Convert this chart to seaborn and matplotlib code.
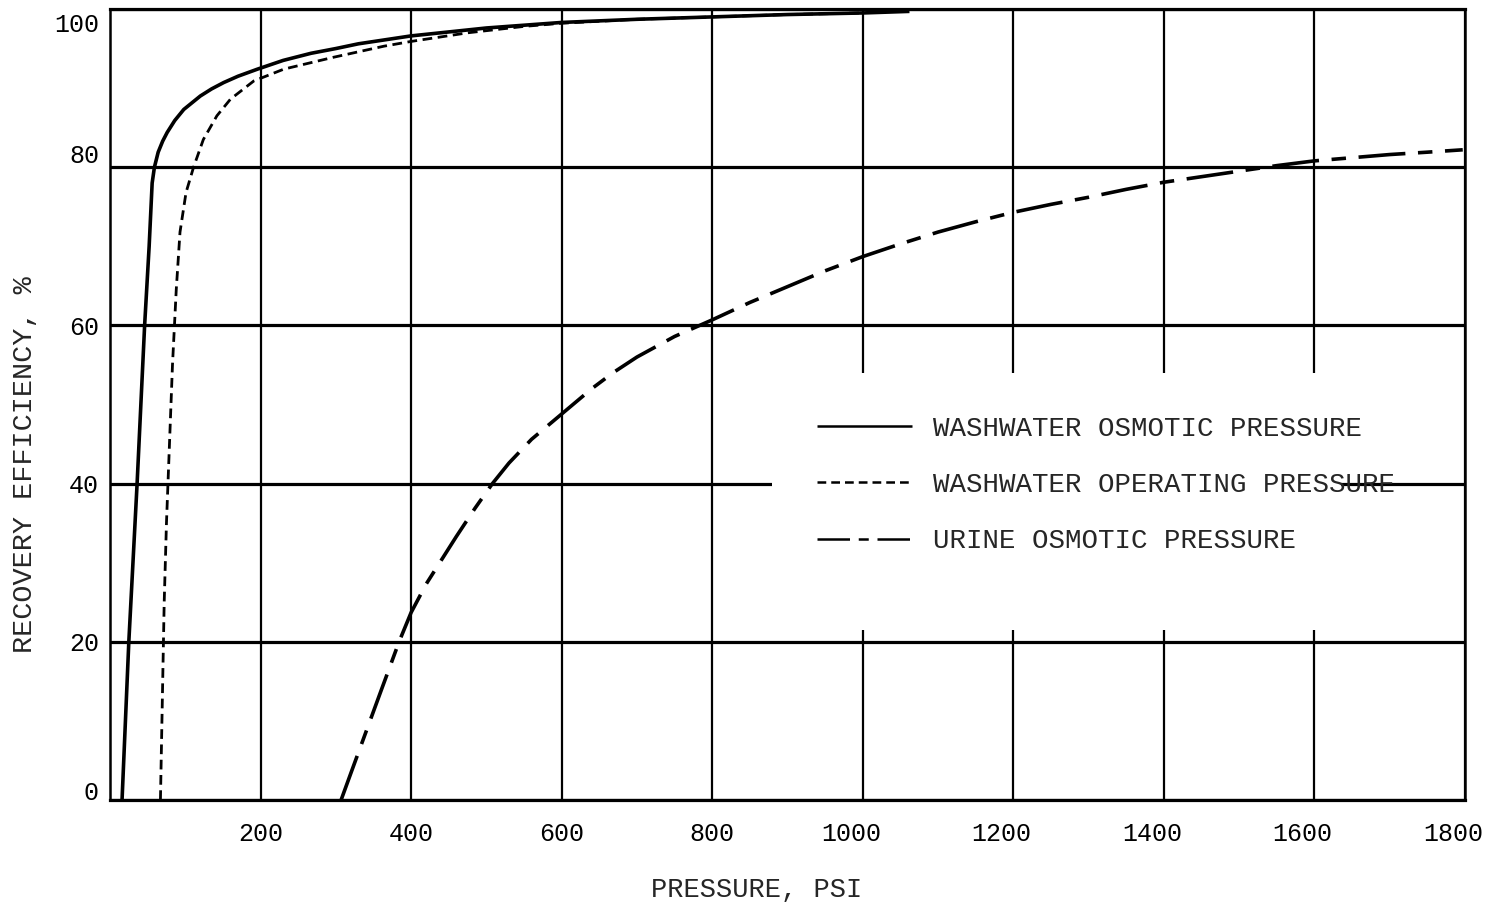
import matplotlib
matplotlib.use("Agg")
import matplotlib.pyplot as plt
import matplotlib.transforms as mtransforms
import seaborn as sns
import numpy as np
import pandas as pd
from matplotlib.patches import Rectangle

# ---- data ----
wash_osm_psi = [16, 25, 36, 46, 52, 56, 59, 64, 70, 76, 86, 98, 120, 135, 151, 170, 196, 230, 267,
                300, 330, 400, 500, 600, 700, 800, 900, 1000, 1062]
wash_osm_eff = [0, 20, 40, 60, 70, 78.0, 80.0, 81.9, 83.3, 84.4, 85.9, 87.3, 89.0, 89.9, 90.7, 91.5,
                92.4, 93.5, 94.4, 95.0, 95.6, 96.6, 97.6, 98.3, 98.7, 99.0, 99.3, 99.5, 99.7]

wash_op_psi = [67, 70, 72, 75, 79, 83, 88, 93, 101, 111, 124, 142, 160, 191, 231, 297, 364,
               400, 476, 550, 600, 700, 800, 900, 1000]
wash_op_eff = [0, 15, 25, 35, 45, 55, 64.5, 71.8, 76.8, 80, 83.5, 86.5, 88.6, 90.9, 92.4, 93.9, 95.3,
               95.9, 97.0, 97.8, 98.2, 98.7, 99.0, 99.3, 99.5]

urine_psi = [307, 320, 340, 360, 384, 400, 420, 440, 460, 485, 508, 530, 560, 600, 640, 668, 700,
             750, 800, 850, 900, 950, 1000, 1050, 1100, 1150, 1200, 1250, 1300, 1350, 1400, 1450,
             1500, 1550, 1600, 1650, 1700, 1750, 1797]
urine_eff = [0, 3.4, 8.6, 13.8, 20.0, 23.7, 27.3, 30.3, 33.3, 36.9, 40.0, 42.6, 45.6, 48.8, 52.0,
             54.0, 56.0, 58.6, 60.7, 62.9, 64.9, 66.9, 68.7, 70.3, 71.8, 73.1, 74.3, 75.3, 76.2,
             77.2, 78.1, 78.8, 79.5, 80.2, 80.8, 81.2, 81.6, 81.9, 82.2]

series_labels = ["WASHWATER OSMOTIC PRESSURE", "WASHWATER OPERATING PRESSURE", "URINE OSMOTIC PRESSURE"]
x_ticks = [200, 400, 600, 800, 1000, 1200, 1400, 1600, 1800]
y_ticks = [0, 20, 40, 60, 80, 100]

sns.set_style("white")
plt.rcParams["font.family"] = ["Liberation Mono", "DejaVu Sans Mono"]

fig = plt.figure(figsize=(14.91, 9.07), dpi=100)
ax = fig.add_axes([110 / 1491, 1 - 800 / 907, (1465 - 110) / 1491, (800 - 9) / 907])

sns.lineplot(x=wash_osm_psi, y=wash_osm_eff, ax=ax, color="black", lw=2.6, sort=False,
             label=series_labels[0], solid_capstyle="butt")
sns.lineplot(x=wash_op_psi, y=wash_op_eff, ax=ax, color="black", lw=2.0, sort=False,
             linestyle=(0, (3.5, 2.0)), label=series_labels[1])
sns.lineplot(x=urine_psi, y=urine_eff, ax=ax, color="black", lw=2.6, sort=False,
             linestyle=(0, (13, 3.5, 4, 3.5)), label=series_labels[2])

ax.set_xlim(0, 1800)
ax.set_ylim(0, 100)
ax.set_xticks(x_ticks)
ax.set_yticks(y_ticks)
ax.tick_params(axis="both", length=0, labelsize=18, colors="black")
ax.tick_params(axis="x", pad=16)
ax.tick_params(axis="y", pad=8)

# typewritten labels sit slightly off their grid lines in the original
for lab in ax.get_xticklabels():
    if len(lab.get_text()) == 4:
        lab.set_transform(lab.get_transform() +
                          mtransforms.ScaledTranslation(-0.12, 0, fig.dpi_scale_trans))
y_shift = {"0": 0.10, "80": 0.14, "100": -0.14}
for lab in ax.get_yticklabels():
    dy = y_shift.get(lab.get_text(), 0)
    if dy:
        lab.set_transform(lab.get_transform() +
                          mtransforms.ScaledTranslation(0, dy, fig.dpi_scale_trans))

ax.set_axisbelow(True)
ax.xaxis.grid(True, color="black", lw=1.6)
ax.yaxis.grid(True, color="black", lw=2.3)
for side, w in [("left", 1.8), ("right", 1.8), ("top", 2.3), ("bottom", 2.3)]:
    ax.spines[side].set_visible(True)
    ax.spines[side].set_color("black")
    ax.spines[side].set_linewidth(w)

# blank area of the grid behind the key
ax.add_patch(Rectangle((880, 21.5), 1635 - 880, 54 - 21.5, facecolor="white",
                       edgecolor="none", zorder=1))

ax.set_xlabel("PRESSURE, PSI", fontsize=19.5, va="center")
ax.xaxis.set_label_coords((757 - 110) / 1355, (800 - 890) / 791)
ax.set_ylabel("RECOVERY EFFICIENCY, %", fontsize=20.5, va="center")
ax.yaxis.set_label_coords((25 - 110) / 1355, (800 - 465) / 791)

leg = ax.legend(loc="center left", bbox_to_anchor=((817 - 110) / 1355, (800 - 485) / 791),
                frameon=False, fontsize=19.8, handlelength=3.45, handletextpad=0.78,
                labelspacing=1.1, borderpad=0, borderaxespad=0)
for ln in leg.get_lines():
    ln.set_linewidth(1.8)

fig.savefig("out.png", dpi=100)
